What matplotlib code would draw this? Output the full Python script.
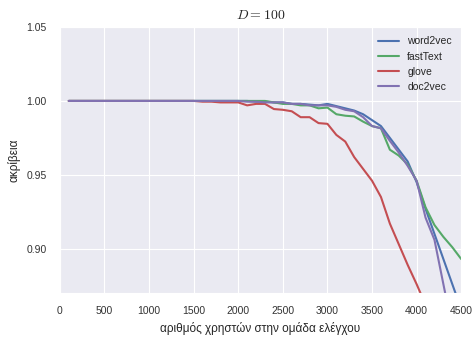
import matplotlib
matplotlib.use('Agg')
import matplotlib.pyplot as plt
import seaborn as sns

sns.set_style('darkgrid')
plt.rcParams['font.family'] = ['Liberation Sans', 'DejaVu Sans']
plt.rcParams['mathtext.fontset'] = 'cm'

n_users = list(range(100, 4600, 100))

word2vec = [1.0] * 21 + [
    0.9995, 0.9995, 0.999, 0.999, 0.998, 0.998, 0.9975, 0.997, 0.998,
    0.9965, 0.995, 0.9935, 0.991, 0.987, 0.983, 0.975, 0.967, 0.959,
    0.945, 0.927, 0.910, 0.893, 0.876, 0.859]

fasttext = [1.0] * 23 + [
    0.999, 0.998, 0.998, 0.997, 0.997, 0.995, 0.9955, 0.991, 0.990,
    0.9895, 0.986, 0.983, 0.9815, 0.967, 0.963, 0.957, 0.946, 0.928,
    0.916, 0.908, 0.901, 0.893]

glove = [1.0] * 15 + [
    0.9995, 0.9995, 0.999, 0.999, 0.999, 0.997, 0.998, 0.998, 0.9945,
    0.994, 0.993, 0.989, 0.989, 0.985, 0.9845, 0.977, 0.9725, 0.962,
    0.954, 0.946, 0.935, 0.917, 0.903, 0.889, 0.876, 0.862, 0.848,
    0.834, 0.820, 0.806]

doc2vec = [1.0] * 20 + [
    0.9995, 0.9995, 0.999, 0.999, 0.999, 0.998, 0.998, 0.997, 0.997,
    0.997, 0.996, 0.994, 0.993, 0.989, 0.983, 0.9815, 0.973, 0.965,
    0.956, 0.946, 0.921, 0.906, 0.876, 0.846, 0.820]

series = {'word2vec': word2vec, 'fastText': fasttext, 'glove': glove, 'doc2vec': doc2vec}
colors = ['#4C72B0', '#55A868', '#C44E52', '#8172B2']

fig = plt.figure(figsize=(4.75, 3.38), dpi=100)
ax = fig.add_axes([0.126, 0.133, 0.845, 0.787])

for (name, vals), c in zip(series.items(), colors):
    ax.plot(n_users, vals, color=c, lw=1.5, label=name)

ax.set_xlim(0, 4500)
ax.set_ylim(0.87, 1.05)
ax.set_xticks(range(0, 5000, 500))
ax.set_yticks([0.90, 0.95, 1.00, 1.05])
ax.tick_params(labelsize=7.5, colors='#333333', pad=6)
ax.set_xlabel('αριθμός χρηστών στην ομάδα ελέγχου', fontsize=8.5, color='#262626')
ax.set_ylabel('ακρίβεια', fontsize=8.5, color='#262626')
ax.set_title('$D = 100$', fontsize=10)
ax.legend(loc='upper right', fontsize=7.5, frameon=False)

fig.savefig('out.png', dpi=100)
